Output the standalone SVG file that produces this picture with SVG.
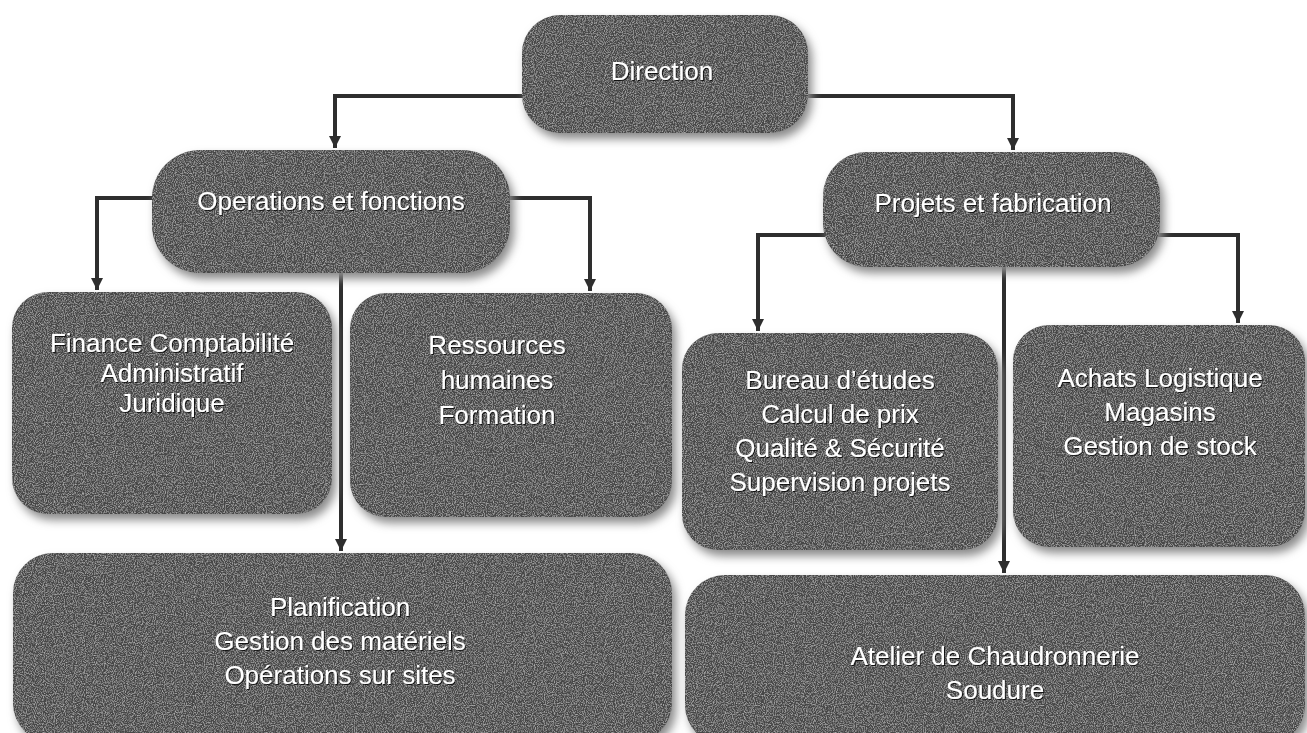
<svg xmlns="http://www.w3.org/2000/svg" width="1307" height="733" viewBox="0 0 1307 733">
  <defs>
    <style>
      .box { fill: #464646; filter: url(#boxfx); }
      .lbl { font-family: "Liberation Sans", Arial, sans-serif; font-size: 26px; fill: #ffffff; text-anchor: middle; filter: url(#txtfx); }
      .con { fill: none; stroke: #2e2e2e; stroke-width: 4; }
    </style>
    <filter id="boxfx" x="-10%" y="-10%" width="125%" height="135%">
      <feGaussianBlur in="SourceAlpha" stdDeviation="5" result="b"/>
      <feOffset in="b" dx="4" dy="6" result="bo"/>
      <feFlood flood-color="#8a8a8a" result="fc"/>
      <feComposite in="fc" in2="bo" operator="in" result="sh"/>
      <feTurbulence type="fractalNoise" baseFrequency="0.9" numOctaves="2" seed="3" result="n"/>
      <feColorMatrix in="n" type="matrix" values="0 0 0 0 1  0 0 0 0 1  0 0 0 0 1  0.9 0 0 0 -0.38" result="w"/>
      <feComposite in="w" in2="SourceAlpha" operator="in" result="wi"/>
      <feMerge>
        <feMergeNode in="sh"/>
        <feMergeNode in="SourceGraphic"/>
        <feMergeNode in="wi"/>
      </feMerge>
    </filter>
    <filter id="txtfx" x="-5%" y="-20%" width="110%" height="140%">
      <feOffset in="SourceAlpha" dx="1" dy="1" result="o"/>
      <feFlood flood-color="#000000" flood-opacity="0.8"/>
      <feComposite in2="o" operator="in" result="s"/>
      <feMerge><feMergeNode in="s"/><feMergeNode in="SourceGraphic"/></feMerge>
    </filter>
    <marker id="arrd" markerUnits="userSpaceOnUse" markerWidth="14" markerHeight="14" viewBox="0 0 14 14" refX="7" refY="13" orient="0">
      <path d="M1 1 L13 1 L7 13 Z" fill="#2e2e2e"/>
    </marker>
  </defs>
  <rect width="1307" height="733" fill="#ffffff"/>

  <g id="connectors">
    <path class="con" d="M524 96 H335 V148" marker-end="url(#arrd)"/>
    <path class="con" d="M806 96 H1013 V150" marker-end="url(#arrd)"/>
    <path class="con" d="M154 198 H97 V290" marker-end="url(#arrd)"/>
    <path class="con" d="M508 198 H590 V291" marker-end="url(#arrd)"/>
    <path class="con" d="M341 271 V551" marker-end="url(#arrd)"/>
    <path class="con" d="M825 235 H758 V331" marker-end="url(#arrd)"/>
    <path class="con" d="M1158 235 H1238 V323" marker-end="url(#arrd)"/>
    <path class="con" d="M1004 265 V573" marker-end="url(#arrd)"/>
  </g>

  <g id="direction">
    <rect class="box" x="522" y="15" width="286" height="118" rx="38" ry="38"/>
    <text class="lbl" x="662" y="80">Direction</text>
  </g>

  <g id="operations">
    <rect class="box" x="152" y="150" width="358" height="123" rx="48" ry="48"/>
    <text class="lbl" x="331" y="210">Operations et fonctions</text>
  </g>

  <g id="projets">
    <rect class="box" x="823" y="152" width="337" height="115" rx="44" ry="44"/>
    <text class="lbl" x="993" y="212">Projets et fabrication</text>
  </g>

  <g id="finance">
    <rect class="box" x="12" y="292" width="320" height="222" rx="36" ry="36"/>
    <text class="lbl" x="172" y="352">Finance Comptabilité</text>
    <text class="lbl" x="172" y="382">Administratif</text>
    <text class="lbl" x="172" y="412">Juridique</text>
  </g>

  <g id="ressources">
    <rect class="box" x="350" y="293" width="322" height="224" rx="36" ry="36"/>
    <text class="lbl" x="497" y="354">Ressources</text>
    <text class="lbl" x="497" y="389">humaines</text>
    <text class="lbl" x="497" y="424">Formation</text>
  </g>

  <g id="bureau">
    <rect class="box" x="682" y="333" width="316" height="217" rx="36" ry="36"/>
    <text class="lbl" x="840" y="389">Bureau d’études</text>
    <text class="lbl" x="840" y="423">Calcul de prix</text>
    <text class="lbl" x="840" y="457">Qualité &amp; Sécurité</text>
    <text class="lbl" x="840" y="491">Supervision projets</text>
  </g>

  <g id="achats">
    <rect class="box" x="1013" y="325" width="292" height="222" rx="36" ry="36"/>
    <text class="lbl" x="1160" y="387">Achats Logistique</text>
    <text class="lbl" x="1160" y="421">Magasins</text>
    <text class="lbl" x="1160" y="455">Gestion de stock</text>
  </g>

  <g id="planification">
    <rect class="box" x="13" y="553" width="659" height="190" rx="40" ry="40"/>
    <text class="lbl" x="340" y="616">Planification</text>
    <text class="lbl" x="340" y="650">Gestion des matériels</text>
    <text class="lbl" x="340" y="684">Opérations sur sites</text>
  </g>

  <g id="atelier">
    <rect class="box" x="685" y="575" width="620" height="170" rx="40" ry="40"/>
    <text class="lbl" x="995" y="665">Atelier de Chaudronnerie</text>
    <text class="lbl" x="995" y="699">Soudure</text>
  </g>
</svg>
